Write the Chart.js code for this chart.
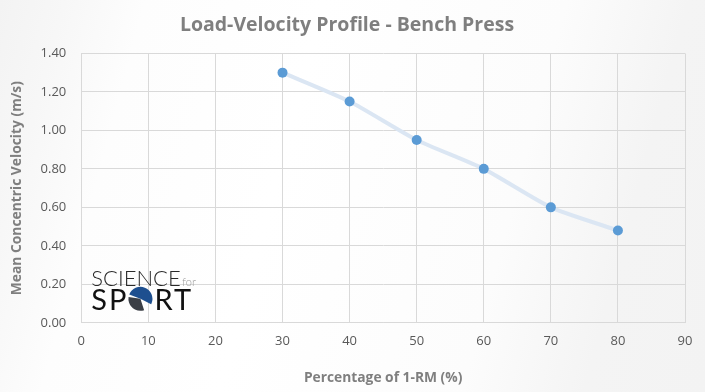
<!DOCTYPE html>
<html>
<head>
<meta charset="utf-8">
<script src="https://cdn.jsdelivr.net/npm/chart.js@4/dist/chart.umd.min.js"></script>
<style>
html,body{margin:0;padding:0}
body{width:705px;height:392px;overflow:hidden;
 background:linear-gradient(105deg,#f3f3f3 0%,#f7f7f7 8%,#fdfdfd 18%,#ffffff 40%,#fcfcfc 70%,#f4f4f4 85%,#f3f3f3 100%)}
#wrap{position:relative;width:705px;height:392px}
</style>
</head>
<body>
<div id="wrap"><canvas id="chart" width="705" height="392"></canvas></div>
<script>
const percentLoad = [30, 40, 50, 60, 70, 80]
const velocity = [1.30, 1.15, 0.95, 0.80, 0.60, 0.48]
const chartTitle = "Load-Velocity Profile - Bench Press"
const xTitle = "Percentage of 1-RM (%)"
const yTitle = "Mean Concentric Velocity (m/s)"

// logo in the bottom left of the plot area
const logoPlugin = {
  id: "logo",
  afterDatasetsDraw(chart) {
    const c = chart.ctx
    const a = chart.chartArea
    const x = a.left + 10
    const b1 = a.bottom - 37
    const b2 = a.bottom - 13
    c.save()
    c.textBaseline = "alphabetic"
    c.fillStyle = "#2a2a2a"
    c.font = "300 22px Lato, sans-serif"
    c.fillText("SCIENCE", x, b1)
    c.fillStyle = "#9a9a9a"
    c.font = "300 11px Lato, sans-serif"
    c.fillText("for", x + 91, b1)
    c.fillStyle = "#111111"
    c.font = "29px Lato, sans-serif"
    c.letterSpacing = "2px"
    c.fillText("SP", x, b2)
    const spW = c.measureText("SP").width
    const r = 12
    const ox = x + spW + r, oy = b2 - 11
    // dark lower-left part
    c.beginPath()
    c.moveTo(ox, oy)
    c.arc(ox, oy, r, Math.PI * 0.4, Math.PI * 1.05)
    c.closePath()
    c.fillStyle = "#3b3f46"
    c.fill()
    // blue upper-right part
    c.beginPath()
    c.moveTo(ox, oy)
    c.arc(ox, oy, r, Math.PI * 1.12, Math.PI * 2.15)
    c.closePath()
    c.fillStyle = "#1e4f8f"
    c.fill()
    c.fillStyle = "#111111"
    c.fillText("RT", ox + r + 2, b2)
    c.restore()
  }
}

const ctx = document.getElementById("chart")
new Chart(ctx, {
  type: "scatter",
  data: {
    datasets: [{
      data: percentLoad.map((p, i) => ({x: p, y: velocity[i]})),
      showLine: true,
      tension: 0.2,
      borderColor: "#dbe6f3",
      borderWidth: 4,
      pointRadius: 5,
      pointHoverRadius: 5,
      pointBackgroundColor: "#5b9bd5",
      pointBorderColor: "#5b9bd5",
      pointBorderWidth: 0
    }]
  },
  options: {
    responsive: false,
    animation: false,
    layout: {padding: {left: 9, right: 20, top: 14, bottom: 2}},
    plugins: {
      legend: {display: false},
      tooltip: {enabled: false},
      title: {
        display: true,
        text: chartTitle,
        color: "#7f7f7f",
        font: {family: "'Open Sans', 'Liberation Sans', sans-serif", size: 19.5, weight: "bold"},
        padding: {top: 0, bottom: 16}
      }
    },
    scales: {
      x: {
        type: "linear",
        min: 0, max: 90,
        ticks: {stepSize: 10, color: "#595959", font: {family: "'Open Sans', sans-serif", size: 13}, padding: 11},
        grid: {color: "#d9d9d9", drawTicks: false},
        border: {color: "#d9d9d9"},
        title: {display: true, text: xTitle, color: "#7f7f7f",
          font: {family: "'Open Sans', sans-serif", size: 13.8, weight: "bold"}, padding: {top: 9}}
      },
      y: {
        min: 0, max: 1.4,
        ticks: {stepSize: 0.2, color: "#595959", font: {family: "'Open Sans', sans-serif", size: 13}, padding: 15,
          callback: v => v.toFixed(2)},
        grid: {color: "#d9d9d9", drawTicks: false},
        border: {color: "#d9d9d9"},
        title: {display: true, text: yTitle, color: "#7f7f7f",
          font: {family: "'Open Sans', sans-serif", size: 13.8, weight: "bold"}, padding: 0}
      }
    }
  },
  plugins: [logoPlugin]
})
</script>
</body>
</html>
